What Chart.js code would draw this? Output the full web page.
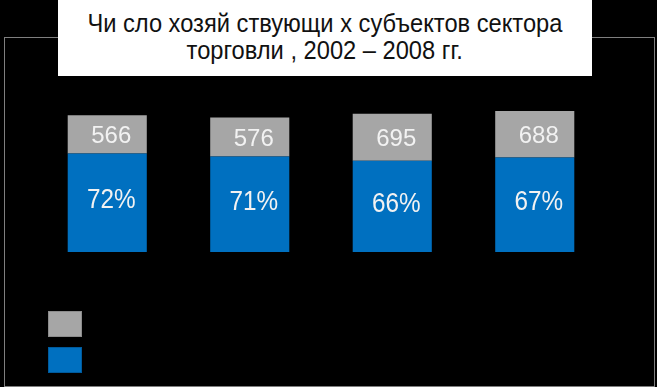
<!DOCTYPE html>
<html lang="ru">
<head>
    <meta charset="UTF-8">
    <title>Число хозяйствующих субъектов сектора торговли</title>
    <script src="https://cdn.jsdelivr.net/npm/chart.js"></script>
    <style>
        body { margin: 0; background: #000; }
        #wrap { position: relative; width: 657px; height: 387px; background: #000; overflow: hidden; }
        #frame {
            position: absolute; left: 4px; top: 37px; width: 649px; height: 348px;
            border: 1px solid #7f7f7f;
        }
        #chart-container { position: absolute; left: 0; top: 0; width: 657px; height: 387px; }
        #title {
            position: absolute; left: 58px; top: 0; width: 534px; height: 76px;
            background: #fff; color: #111; text-align: center;
            font-family: "Liberation Sans", Arial, sans-serif;
            font-size: 26px; line-height: 27px; padding-top: 10px; box-sizing: border-box;
        }
        #title span { display: inline-block; white-space: nowrap; transform-origin: center; }
    </style>
</head>
<body>
<div id="wrap">
    <div id="frame"></div>
    <div id="chart-container">
        <canvas id="tradeChart"></canvas>
    </div>
    <div id="title"><span id="t1">Чи сло хозяй ствующи х субъектов сектора</span><br><span id="t2">торговли , 2002 – 2008 гг.</span></div>
</div>

<script>
    // годы (ось скрыта)
    const years = ['2002', '2004', '2006', '2008'];
    // серая часть: число субъектов
    const grayValues = [566, 576, 695, 688];
    // синяя часть: оценка по высоте столбика
    const blueValues = [1455, 1410, 1349, 1397];
    // подписи синей части
    const bluePct = ['72%', '71%', '66%', '67%'];

    // сжать заголовок по ширине, как узкий шрифт в оригинале
    const t1 = document.getElementById('t1');
    const k = 475 / t1.getBoundingClientRect().width;
    t1.style.transform = 'scaleX(' + k + ')';
    document.getElementById('t2').style.transform = 'scaleX(' + k + ')';

    const ctx = document.getElementById('tradeChart').getContext('2d');

    const labelPlugin = {
        id: 'barLabels',
        afterDatasetsDraw(chart) {
            const { ctx } = chart;
            chart.data.datasets.forEach((ds, i) => {
                const meta = chart.getDatasetMeta(i);
                meta.data.forEach((bar, j) => {
                    const blue = i === 0;
                    const txt = blue ? bluePct[j] : String(ds.data[j]);
                    const yMid = (bar.y + bar.base) / 2 + (blue ? -2 : 2);
                    ctx.save();
                    ctx.fillStyle = '#f2f2f2';
                    ctx.textAlign = 'center';
                    ctx.textBaseline = 'middle';
                    ctx.translate(bar.x + 4, yMid);
                    if (blue) {
                        ctx.font = '27px "Liberation Sans", Arial, sans-serif';
                        ctx.scale(0.9, 1);
                    } else {
                        ctx.font = '24px "Liberation Sans", Arial, sans-serif';
                    }
                    ctx.fillText(txt, 0, 0);
                    ctx.restore();
                });
            });
        }
    };

    // квадраты легенды внизу слева
    const legendPlugin = {
        id: 'boxLegend',
        afterDraw(chart) {
            const { ctx } = chart;
            const order = [1, 0];
            ctx.save();
            order.forEach((di, n) => {
                const ds = chart.data.datasets[di];
                const y = 311 + n * 36;
                ctx.fillStyle = ds.backgroundColor;
                ctx.fillRect(48, y, 34, 26);
                ctx.strokeStyle = ds.borderColor;
                ctx.lineWidth = 1;
                ctx.strokeRect(48.5, y + 0.5, 33, 25);
            });
            ctx.restore();
        }
    };

    new Chart(ctx, {
        type: 'bar',
        data: {
            labels: years,
            datasets: [
                {
                    label: 'Доля',
                    data: blueValues,
                    backgroundColor: '#0070c0',
                    borderColor: '#005a9c',
                    borderWidth: 0,
                    categoryPercentage: 1,
                    barPercentage: 0.555
                },
                {
                    label: 'Число',
                    data: grayValues,
                    backgroundColor: '#a6a6a6',
                    borderColor: '#8c8c8c',
                    borderWidth: 0,
                    categoryPercentage: 1,
                    barPercentage: 0.555
                }
            ]
        },
        options: {
            responsive: true,
            maintainAspectRatio: false,
            animation: false,
            layout: { padding: { left: 36, right: 51, top: 49, bottom: 135 } },
            plugins: {
                legend: { display: false },
                tooltip: { enabled: false }
            },
            scales: {
                x: { stacked: true, display: false },
                y: { stacked: true, display: false, min: 0, max: 3000 }
            }
        },
        plugins: [labelPlugin, legendPlugin]
    });
</script>
</body>
</html>
